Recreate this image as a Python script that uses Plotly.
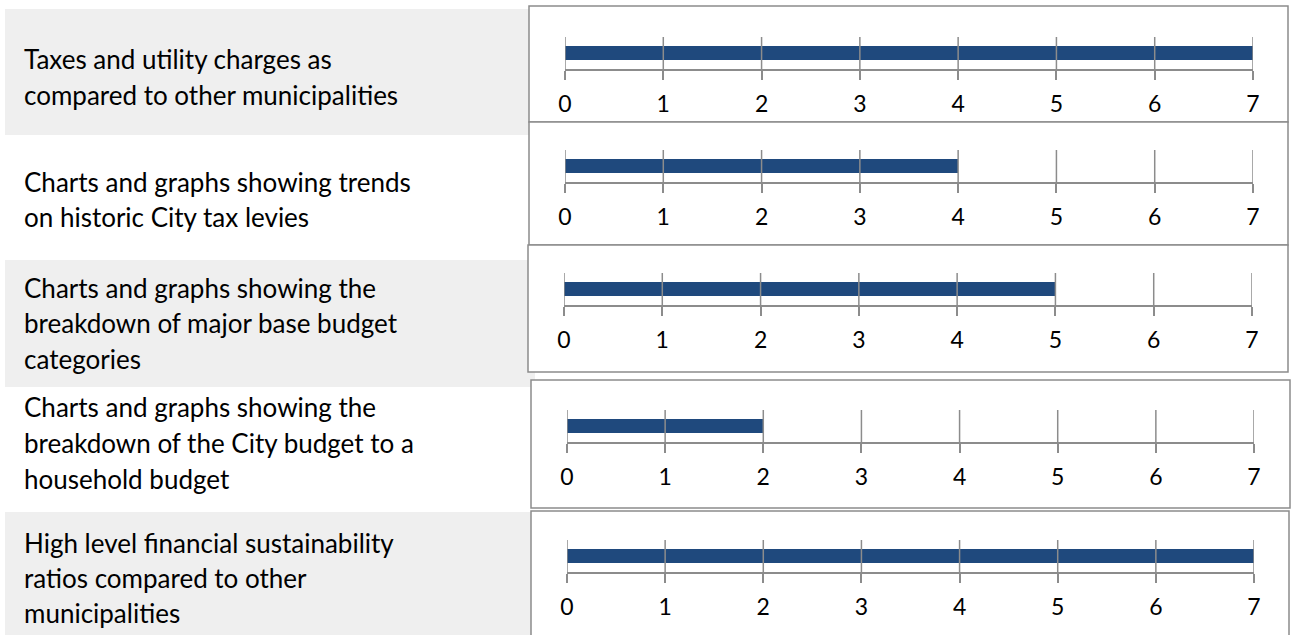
import plotly.graph_objects as go

# ---- data -------------------------------------------------------------
categories = [
    "Taxes and utility charges as\ncompared to other municipalities",
    "Charts and graphs showing trends\non historic City tax levies",
    "Charts and graphs showing the\nbreakdown of major base budget\ncategories",
    "Charts and graphs showing the\nbreakdown of the City budget to a\nhousehold budget",
    "High level financial sustainability\nratios compared to other\nmunicipalities",
]
values = [7, 4, 5, 2, 7]
tick_values = [0, 1, 2, 3, 4, 5, 6, 7]
tick_labels = ["0", "1", "2", "3", "4", "5", "6", "7"]

# ---- page geometry (pixels) ---------------------------------------------
W, H = 1293, 635
BAR_COLOR = "#1F497D"
LINE_COLOR = "#8C8C8C"
BAND_COLOR = "#EFEFEF"
FONT = "Lato"

# each chart panel: frame box, pixel of value 0 and of value 7, axis line y
panels = [
    dict(box=(529, 6, 1288, 122), x0=565, x7=1253, axis=69),
    dict(box=(529, 122, 1288, 245), x0=565, x7=1253, axis=182),
    dict(box=(528, 245, 1288, 372), x0=564, x7=1252, axis=305),
    dict(box=(531, 380, 1290, 508), x0=567, x7=1254, axis=442),
    dict(box=(531, 511, 1289, 640), x0=567, x7=1254, axis=572),
]
# label rows: shaded or not, band extent, centre of each text line
rows = [
    dict(band=(5, 9, 535, 135), shaded=True, lines=[59, 95]),
    dict(band=(5, 135, 535, 260), shaded=False, lines=[182, 217]),
    dict(band=(5, 260, 535, 387), shaded=True, lines=[288, 323, 359]),
    dict(band=(5, 387, 535, 512), shaded=False, lines=[407, 443, 479]),
    dict(band=(5, 512, 535, 635), shaded=True, lines=[543, 578, 613]),
]
TICK_UP = 32     # tick length above the axis line
TICK_DOWN = 9    # tick length below the axis line
BAR_H = 14       # bar thickness


def fx(px):
    return px / W


def fy(py):
    return 1 - py / H


fig = go.Figure()
shapes = []
annotations = []

# label column
for row, text in zip(rows, categories):
    bx0, by0, bx1, by1 = row["band"]
    if row["shaded"]:
        shapes.append(dict(type="rect", xref="paper", yref="paper",
                           x0=fx(bx0), x1=fx(bx1), y0=fy(by1), y1=fy(by0),
                           fillcolor=BAND_COLOR, line=dict(width=0), layer="below"))
    for line_text, cy in zip(text.split("\n"), row["lines"]):
        annotations.append(dict(text=line_text, xref="paper", yref="paper",
                                x=fx(22), y=fy(cy), xanchor="left", yanchor="middle",
                                showarrow=False,
                                font=dict(family=FONT, size=26, color="#000000")))

# chart panels
for i, (p, v) in enumerate(zip(panels, values), start=1):
    bx0, by0, bx1, by1 = p["box"]
    shapes.append(dict(type="rect", xref="paper", yref="paper",
                       x0=fx(bx0), x1=fx(bx1), y0=fy(by1), y1=fy(by0),
                       fillcolor="white", line=dict(color=LINE_COLOR, width=1.5),
                       layer="below"))

    xdom = [fx(p["x0"]), fx(p["x7"])]
    ydom = [fy(p["axis"]), fy(p["axis"] - TICK_UP)]

    suffix = "" if i == 1 else str(i)
    fig.add_trace(go.Bar(
        x=[v], y=[0.5], orientation="h", width=BAR_H / TICK_UP,
        marker=dict(color=BAR_COLOR, line=dict(width=0)),
        xaxis="x" + suffix, yaxis="y" + suffix,
        hoverinfo="skip", showlegend=False, cliponaxis=False,
    ))

    # upper part of each tick mark, drawn over the bar
    for t in tick_values:
        shapes.append(dict(type="line", xref="x" + suffix, yref="y" + suffix + " domain",
                           x0=t, x1=t, y0=0, y1=1,
                           line=dict(color=LINE_COLOR, width=1.5), layer="above"))

    fig.layout["xaxis" + suffix] = dict(
        domain=xdom, range=[tick_values[0], tick_values[-1]], anchor="y" + suffix,
        tickmode="array", tickvals=tick_values, ticktext=tick_labels,
        ticks="outside", ticklen=TICK_DOWN, tickwidth=1.5, tickcolor=LINE_COLOR,
        showline=True, linecolor=LINE_COLOR, linewidth=1.5,
        showgrid=False, zeroline=False, layer="above traces",
        tickfont=dict(family=FONT, size=23, color="#000000"),
        ticklabelstandoff=5, fixedrange=True, automargin=False,
    )
    fig.layout["yaxis" + suffix] = dict(
        domain=ydom, range=[0, 1], anchor="x" + suffix,
        visible=False, fixedrange=True, automargin=False,
    )

fig.update_layout(
    width=W, height=H,
    margin=dict(l=0, r=0, t=0, b=0, autoexpand=False),
    paper_bgcolor="white", plot_bgcolor="rgba(0,0,0,0)",
    shapes=shapes, annotations=annotations,
    showlegend=False, bargap=0,
)

fig.write_html("out.html", config=dict(displayModeBar=False))
